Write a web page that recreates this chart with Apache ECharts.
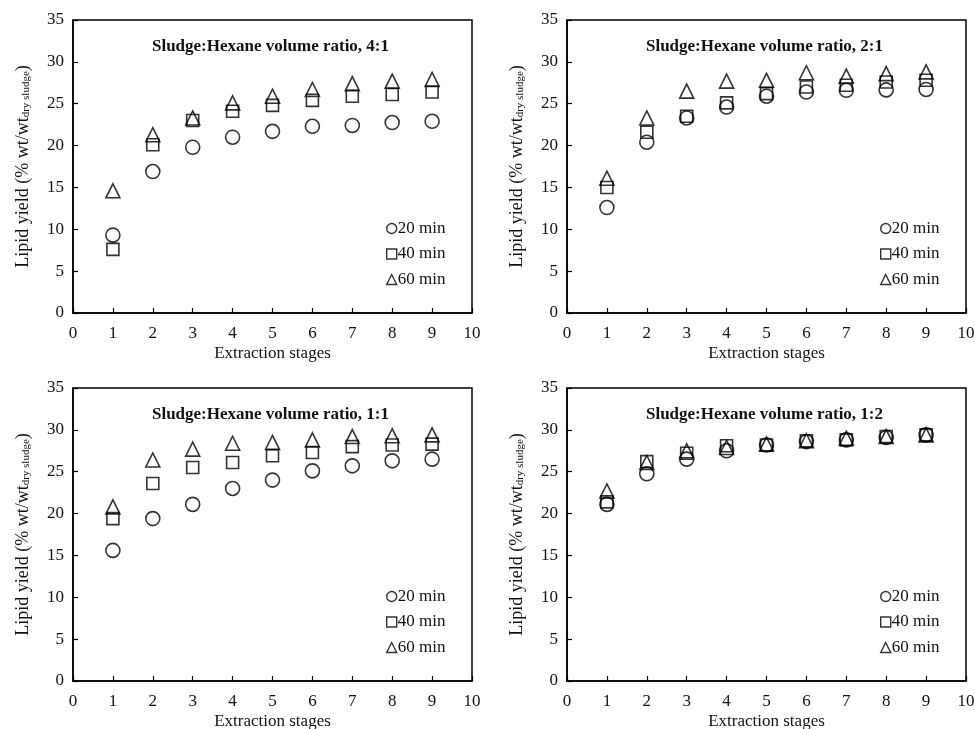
<!DOCTYPE html>
<html>
<head>
<meta charset="utf-8">
<script src="https://cdn.jsdelivr.net/npm/echarts@6/dist/echarts.min.js"></script>
<style>html,body{margin:0;padding:0;background:#fff;}#c{width:975px;height:729px;}</style>
</head>
<body>
<div id="c"></div>
<script>
// ---- data ----
const stages = [1, 2, 3, 4, 5, 6, 7, 8, 9];
const seriesNames = ['20 min', '40 min', '60 min'];
const panelTitles = [
  'Sludge:Hexane volume ratio, 4:1',
  'Sludge:Hexane volume ratio, 2:1',
  'Sludge:Hexane volume ratio, 1:1',
  'Sludge:Hexane volume ratio, 1:2'
];
const xTicks = [0, 1, 2, 3, 4, 5, 6, 7, 8, 9, 10];
const yTicks = [0, 5, 10, 15, 20, 25, 30, 35];

// ratio 4:1
const r41_20 = [9.3, 16.9, 19.8, 21.0, 21.7, 22.3, 22.4, 22.75, 22.9];
const r41_40 = [7.6, 20.1, 23.0, 24.1, 24.8, 25.4, 25.9, 26.1, 26.4];
const r41_60 = [14.6, 21.3, 23.3, 25.1, 25.9, 26.7, 27.4, 27.7, 27.9];
// ratio 2:1
const r21_20 = [12.6, 20.4, 23.3, 24.6, 25.9, 26.4, 26.6, 26.65, 26.7];
const r21_40 = [15.0, 21.6, 23.5, 25.1, 26.2, 27.0, 27.2, 27.6, 27.8];
const r21_60 = [16.1, 23.3, 26.5, 27.7, 27.8, 28.7, 28.3, 28.6, 28.8];
// ratio 1:1
const r11_20 = [15.6, 19.4, 21.1, 23.0, 24.0, 25.1, 25.7, 26.3, 26.5];
const r11_40 = [19.4, 23.6, 25.5, 26.1, 26.9, 27.3, 28.0, 28.2, 28.3];
const r11_60 = [20.8, 26.4, 27.7, 28.4, 28.5, 28.8, 29.2, 29.3, 29.4];
// ratio 1:2
const r12_20 = [21.1, 24.75, 26.5, 27.5, 28.2, 28.6, 28.8, 29.1, 29.4];
const r12_40 = [21.4, 26.2, 27.2, 28.1, 28.2, 28.7, 28.8, 29.2, 29.4];
const r12_60 = [22.7, 26.1, 27.5, 27.9, 28.3, 28.7, 29.0, 29.2, 29.4];

const panelData = [
  [r41_20, r41_40, r41_60],
  [r21_20, r21_40, r21_60],
  [r11_20, r11_40, r11_60],
  [r12_20, r12_40, r12_60]
];

// ---- layout ----
const FONT = '"Liberation Serif", "Times New Roman", serif';
const grids = [
  {left: 73, top: 20},
  {left: 567, top: 20},
  {left: 73, top: 388},
  {left: 567, top: 388}
];
const GW = 399, GH = 293;
const symbols = ['circle', 'rect', 'triangle'];
const symSizes = [14, 12, 14];

const option = {
  animation: false,
  backgroundColor: '#fff',
  title: [],
  legend: [],
  grid: [],
  xAxis: [],
  yAxis: [],
  series: []
};

grids.forEach((g, i) => {
  option.grid.push({
    left: g.left, top: g.top, width: GW, height: GH,
    outerBoundsMode: 'none', containLabel: false,
    show: true, borderColor: '#000', borderWidth: 1.5, backgroundColor: 'transparent'
  });
  option.title.push({
    text: panelTitles[i],
    left: g.left + GW / 2 - 7,
    top: g.top + 13,
    textAlign: 'center',
    textStyle: {fontFamily: FONT, fontWeight: 'bold', fontSize: 17, color: '#111'}
  });
  option.xAxis.push({
    type: 'value', gridIndex: i, min: xTicks[0], max: xTicks[xTicks.length - 1], interval: 1,
    name: 'Extraction stages', nameLocation: 'middle', nameGap: 32,
    nameTextStyle: {fontFamily: FONT, fontSize: 17, color: '#111'},
    axisLine: {show: true, lineStyle: {color: '#000', width: 1.5}},
    axisTick: {show: true, inside: true, length: 5, lineStyle: {color: '#000', width: 1.2}},
    axisLabel: {fontFamily: FONT, fontSize: 17, color: '#111', margin: 12},
    splitLine: {show: false}
  });
  option.yAxis.push({
    type: 'value', gridIndex: i, min: yTicks[0], max: yTicks[yTicks.length - 1], interval: 5,
    name: '{a|Lipid yield (% wt/wt}{s|dry sludge}{a|)}',
    nameLocation: 'middle', nameGap: 41, nameRotate: 90,
    nameTextStyle: {
      fontFamily: FONT, fontSize: 18, color: '#111',
      rich: {
        a: {fontFamily: FONT, fontSize: 18, color: '#111', lineHeight: 20, verticalAlign: 'bottom'},
        s: {fontFamily: FONT, fontSize: 11, color: '#111', lineHeight: 20, verticalAlign: 'bottom', padding: [7, 0, 0, 0]}
      }
    },
    axisLine: {show: true, lineStyle: {color: '#000', width: 1.5}},
    axisTick: {show: true, inside: true, length: 5, lineStyle: {color: '#000', width: 1.2}},
    axisLabel: {fontFamily: FONT, fontSize: 17, color: '#111', margin: 9},
    splitLine: {show: false}
  });
  option.legend.push({
    orient: 'vertical',
    left: g.left + 308,
    top: g.top + 195,
    itemWidth: 10, itemHeight: 10, itemGap: 8.5,
    data: seriesNames.map((n, k) => ({name: n, icon: symbols[k]})),
    itemStyle: {color: 'rgba(0,0,0,0)', borderColor: '#000', borderWidth: 1.4},
    textStyle: {fontFamily: FONT, fontSize: 17, color: '#111', lineHeight: 17, padding: [0, 0, 0, -4]},
    selectedMode: false
  });
  seriesNames.forEach((n, k) => {
    option.series.push({
      type: 'scatter', name: n,
      xAxisIndex: i, yAxisIndex: i,
      symbol: symbols[k], symbolSize: symSizes[k],
      itemStyle: {color: 'rgba(0,0,0,0)', borderColor: '#000', borderWidth: 1.6},
      data: stages.map((s, j) => [s, panelData[i][k][j]])
    });
  });
});

const chart = echarts.init(document.getElementById('c'), null, {renderer: 'canvas'});
chart.setOption(option);
</script>
</body>
</html>
